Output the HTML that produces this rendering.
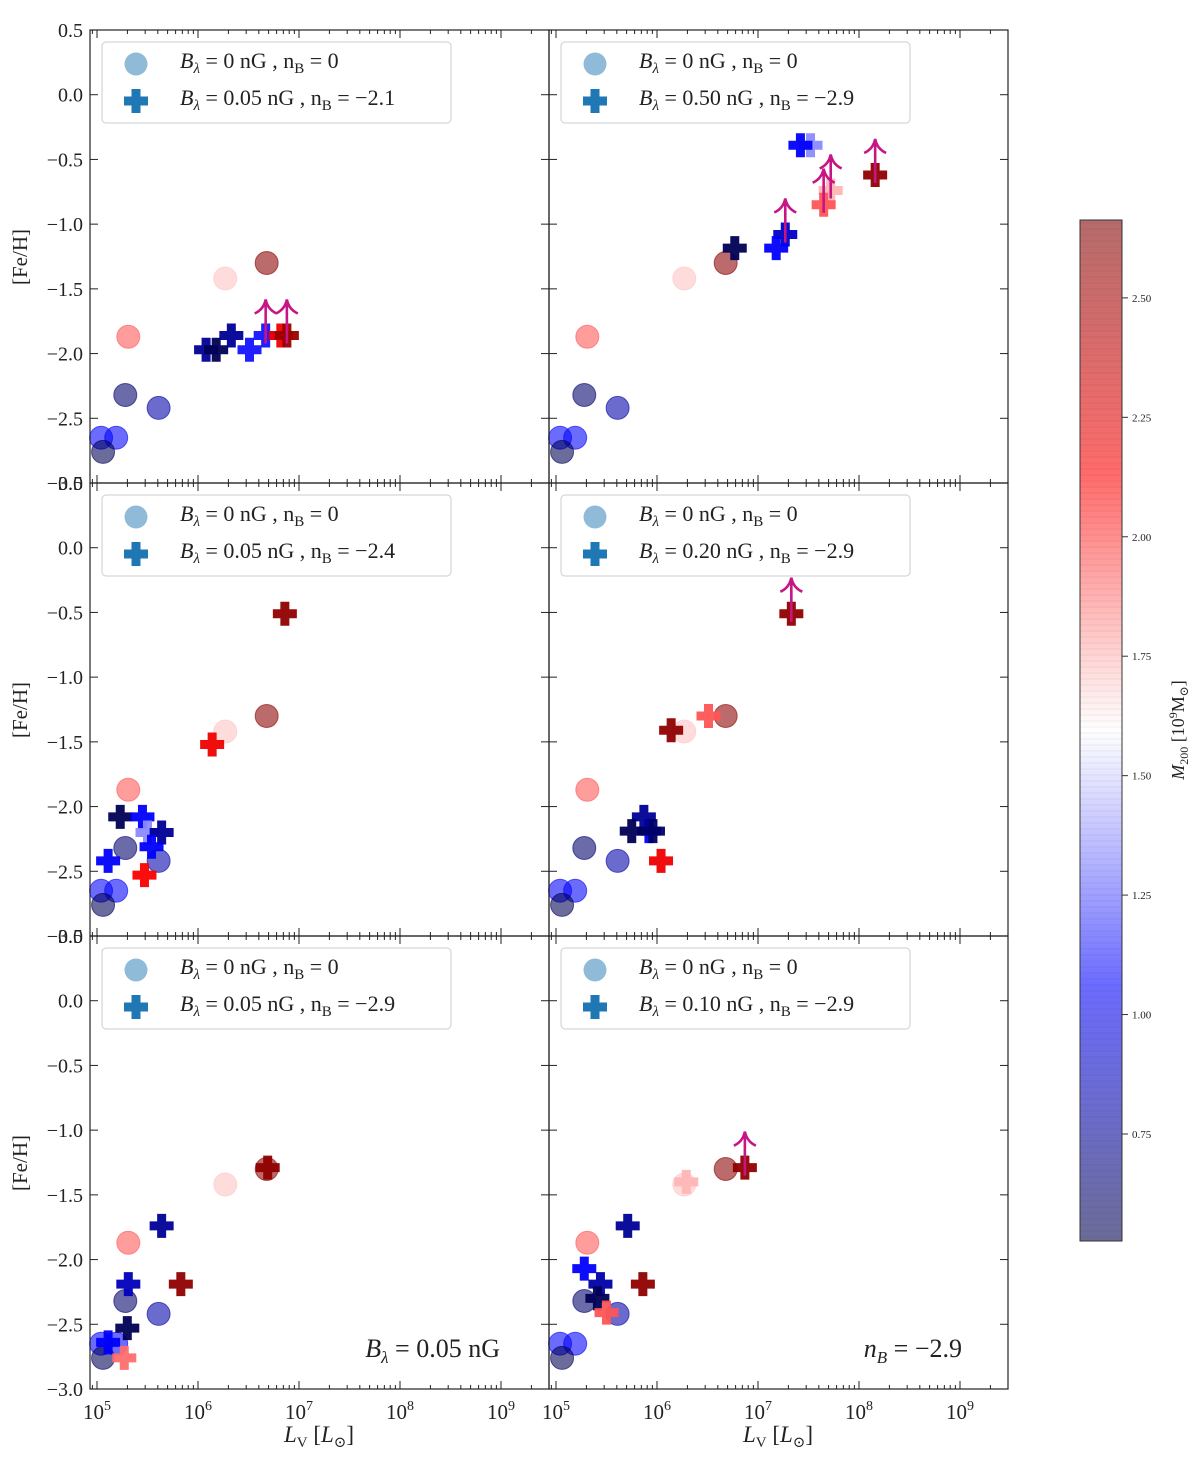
<!DOCTYPE html>
<html><head><meta charset="utf-8">
<style>
html,body{margin:0;padding:0;background:#fff;}
svg text{font-family:"Liberation Serif","DejaVu Serif",serif;fill:#222;}
</style></head>
<body>
<svg id="chart" width="1200" height="1461" viewBox="0 0 1200 1461" xmlns="http://www.w3.org/2000/svg"></svg>
<script>
// ---- data ----
const circleLv   = [5.31, 6.27, 6.68, 5.28, 5.61, 5.04, 5.19, 5.06];
const circleFeH  = [-1.87, -1.42, -1.30, -2.32, -2.42, -2.65, -2.65, -2.76];
const circleMass = [1.95, 1.72, 2.62, 0.62, 0.80, 1.05, 1.05, 0.55];

const p1Lv = [6.08, 6.18, 6.33, 6.51, 6.67, 6.82, 6.88];
const p1FeH = [-1.97, -1.97, -1.86, -1.97, -1.86, -1.86, -1.86];
const p1Mass = [0.75, 0.55, 0.75, 1.1, 1.1, 2.2, 2.55];
const p1Up = [0, 0, 0, 0, 1, 0, 1];

const p2Lv = [7.52, 7.42, 6.77, 7.27, 7.18, 7.72, 7.65, 8.16];
const p2FeH = [-0.39, -0.39, -1.185, -1.08, -1.185, -0.74, -0.85, -0.62];
const p2Mass = [1.35, 1.05, 0.55, 0.9, 1.05, 1.75, 1.95, 2.6];
const p2Up = [0, 0, 0, 1, 0, 1, 1, 1];

const p3Lv = [6.86, 6.14, 5.23, 5.45, 5.50, 5.64, 5.54, 5.11, 5.47];
const p3FeH = [-0.51, -1.52, -2.08, -2.08, -2.20, -2.20, -2.31, -2.42, -2.53];
const p3Mass = [2.6, 2.2, 0.55, 1.05, 1.35, 0.75, 1.05, 1.05, 2.15];
const p3Up = [0, 0, 0, 0, 0, 0, 0, 0, 0];

const p4Lv = [7.33, 6.14, 6.51, 5.92, 5.87, 5.75, 5.96, 6.04];
const p4FeH = [-0.51, -1.41, -1.30, -2.19, -2.08, -2.19, -2.19, -2.42];
const p4Mass = [2.6, 2.6, 1.95, 1.05, 0.75, 0.55, 0.6, 2.2];
const p4Up = [1, 0, 0, 0, 0, 0, 0, 0];

const p5Lv = [6.69, 5.64, 5.31, 5.83, 5.30, 5.11, 5.27];
const p5FeH = [-1.29, -1.74, -2.19, -2.19, -2.53, -2.64, -2.76];
const p5Mass = [2.6, 0.75, 0.85, 2.6, 0.55, 1.05, 1.9];
const p5Up = [0, 0, 0, 0, 0, 0, 0];

const p6Lv = [6.87, 6.29, 5.71, 5.86, 5.28, 5.44, 5.41, 5.50];
const p6FeH = [-1.29, -1.40, -1.74, -2.19, -2.07, -2.19, -2.30, -2.41];
const p6Mass = [2.6, 1.75, 0.75, 2.6, 1.05, 0.8, 0.55, 1.95];
const p6Up = [1, 0, 0, 0, 0, 0, 0, 0];

const legendB = ["0.05", "0.50", "0.05", "0.20", "0.05", "0.10"];
const legendN = ["2.1", "2.9", "2.4", "2.9", "2.9", "2.9"];
const yTicks = [0.5, 0.0, -0.5, -1.0, -1.5, -2.0, -2.5, -3.0];
const cbTicks = [0.75, 1.00, 1.25, 1.50, 1.75, 2.00, 2.25, 2.50];

// ---- helpers ----
const NS = "http://www.w3.org/2000/svg";
const svg = document.getElementById("chart");
function mk(tag, attrs, parent) {
  const e = document.createElementNS(NS, tag);
  for (const k in attrs) e.setAttribute(k, attrs[k]);
  (parent || svg).appendChild(e);
  return e;
}
const VMIN = 0.526, VMAX = 2.663;
function seismic(m) {
  let t = Math.max(0, Math.min(1, (m - VMIN) / (VMAX - VMIN)));
  const st = [[0, [0, 0, 0.3]], [0.25, [0, 0, 1]], [0.5, [1, 1, 1]], [0.75, [1, 0, 0]], [1, [0.5, 0, 0]]];
  for (let i = 0; i < 4; i++) {
    const [a, ca] = st[i], [b, cb] = st[i + 1];
    if (t <= b) {
      const f = (t - a) / (b - a);
      const c = ca.map((v, j) => Math.round(255 * (v + (cb[j] - v) * f)));
      return `rgb(${c[0]},${c[1]},${c[2]})`;
    }
  }
  return "rgb(128,0,0)";
}

const panels = [
  {x0: 90, y0: 30, lv: p1Lv, fe: p1FeH, m: p1Mass, up: p1Up},
  {x0: 549, y0: 30, lv: p2Lv, fe: p2FeH, m: p2Mass, up: p2Up},
  {x0: 90, y0: 483, lv: p3Lv, fe: p3FeH, m: p3Mass, up: p3Up},
  {x0: 549, y0: 483, lv: p4Lv, fe: p4FeH, m: p4Mass, up: p4Up},
  {x0: 90, y0: 936, lv: p5Lv, fe: p5FeH, m: p5Mass, up: p5Up},
  {x0: 549, y0: 936, lv: p6Lv, fe: p6FeH, m: p6Mass, up: p6Up},
];
const W = 459, H = 453, PXD = 101, PXU = H / 3.5;

function crossPath(cx, cy) {
  const a = 12, b = 4.5;
  return `M${cx-b},${cy-a}H${cx+b}V${cy-b}H${cx+a}V${cy+b}H${cx+b}V${cy+a}H${cx-b}V${cy+b}H${cx-a}V${cy-b}H${cx-b}Z`;
}

panels.forEach((p, pi) => {
  const g = mk("g", {});
  
  
  const xs = lv => p.x0 + 7 + (lv - 5) * PXD;
  const ys = f => p.y0 + (0.5 - f) * PXU;
  const right = p.x0 + W, bottom = p.y0 + H;
  circleLv.forEach((lv, i) => {
    const c = mk("circle", {cx: xs(lv), cy: ys(circleFeH[i]), r: 11.5, fill: seismic(circleMass[i]), "fill-opacity": 0.58, stroke: seismic(circleMass[i]), "stroke-opacity": 0.6, "stroke-width": 1}, g);
    
    
  });
  p.lv.forEach((lv, i) => {
    const c = mk("path", {d: crossPath(xs(lv), ys(p.fe[i])), fill: seismic(p.m[i]), "fill-opacity": 0.95}, g);
    
    
  });
  p.lv.forEach((lv, i) => {
    if (!p.up[i]) return;
    const x = xs(lv), y = ys(p.fe[i]);
    const a = mk("path", {d: `M${x},${y+8}V${y-34} M${x-11},${y-22} Q${x-2},${y-26} ${x},${y-36} Q${x+2},${y-26} ${x+11},${y-22}`, stroke: "#c71585", "stroke-width": 2.6, fill: "none"}, g);
    
    
  });
  const fr = mk("rect", {x: p.x0, y: p.y0, width: W, height: H, fill: "none", stroke: "#222", "stroke-width": 1.2}, g);
  
  
  for (let d = 4; d <= 9; d++) {
    for (let k = 1; k <= 9; k++) {
      const v = d + Math.log10(k);
      const x = xs(v);
      if (x < p.x0 || x > right) continue;
      const L = k === 1 ? 8 : 4;
      mk("line", {x1: x, y1: bottom, x2: x, y2: bottom - L, stroke: "#222", "stroke-width": 1}, g);
      mk("line", {x1: x, y1: p.y0, x2: x, y2: p.y0 + L, stroke: "#222", "stroke-width": 1}, g);
      if (k === 1 && pi >= 4 && d >= 5) {
        const t = mk("text", {x: x, y: bottom + 30, "font-size": 21, "text-anchor": "middle"}, g);
        t.innerHTML = `10<tspan font-size="14" dy="-9">${d}</tspan>`;
        
        
      }
    }
  }
  yTicks.forEach(v => {
    const y = ys(v);
    mk("line", {x1: p.x0, y1: y, x2: p.x0 + 8, y2: y, stroke: "#222", "stroke-width": 1}, g);
    mk("line", {x1: right, y1: y, x2: right - 8, y2: y, stroke: "#222", "stroke-width": 1}, g);
    if (pi % 2 === 0) {
      const t = mk("text", {x: p.x0 - 7, y: y + 7, "font-size": 20, "text-anchor": "end"}, g);
      t.textContent = (v < 0 ? "\u2212" : "") + Math.abs(v).toFixed(1);
      
      
    }
  });
  const lg = mk("g", {}, g);
  
  
  const lx = p.x0 + 12, ly = p.y0 + 12;
  mk("rect", {x: lx, y: ly, width: 349, height: 81, rx: 4, fill: "#fff", "fill-opacity": 0.8, stroke: "#ccc", "stroke-width": 1}, lg);
  mk("circle", {cx: lx + 34, cy: ly + 22, r: 11.5, fill: "#1f77b4", "fill-opacity": 0.5}, lg);
  mk("path", {d: crossPath(lx + 34, ly + 59), fill: "#1f77b4"}, lg);
  const t1 = mk("text", {x: lx + 78, y: ly + 26, "font-size": 22}, lg);
  t1.innerHTML = `<tspan font-style="italic">B</tspan><tspan font-size="15" dy="5" font-style="italic">λ</tspan><tspan dy="-5"> = 0 nG , n</tspan><tspan font-size="15" dy="5">B</tspan><tspan dy="-5"> = 0</tspan>`;
  
  
  const t2 = mk("text", {x: lx + 78, y: ly + 63, "font-size": 22}, lg);
  t2.innerHTML = `<tspan font-style="italic">B</tspan><tspan font-size="15" dy="5" font-style="italic">λ</tspan><tspan dy="-5"> = ${legendB[pi]} nG , n</tspan><tspan font-size="15" dy="5">B</tspan><tspan dy="-5"> = \u2212${legendN[pi]}</tspan>`;
  
  
  if (pi % 2 === 0) {
    const yl = mk("text", {x: 0, y: 0, "font-size": 21, "text-anchor": "middle", transform: `translate(27,${p.y0 + 227}) rotate(-90)`}, g);
    yl.textContent = "[Fe/H]";
    
    
  }
  if (pi >= 4) {
    const xl = mk("text", {x: p.x0 + 229, y: bottom + 53, "font-size": 23, "text-anchor": "middle"}, g);
    xl.innerHTML = `<tspan font-style="italic">L</tspan><tspan font-size="15" dy="5">V</tspan><tspan dy="-5"> [</tspan><tspan font-style="italic">L</tspan><tspan font-size="15" dy="5">⊙</tspan><tspan dy="-5">]</tspan>`;
    
    
  }
});

const a1 = mk("text", {x: 500, y: 1357, "font-size": 26, "text-anchor": "end"});
a1.innerHTML = `<tspan font-style="italic">B</tspan><tspan font-size="17" dy="6" font-style="italic">λ</tspan><tspan dy="-6"> = 0.05 nG</tspan>`;


const a2 = mk("text", {x: 962, y: 1357, "font-size": 26, "text-anchor": "end"});
a2.innerHTML = `<tspan font-style="italic">n</tspan><tspan font-size="17" dy="6" font-style="italic">B</tspan><tspan dy="-6"> = \u22122.9</tspan>`;



const cb = mk("g", {});


const CBX = 1080, CBW = 42, CBT = 220, CBB = 1241;
const cbY = m => CBB - (m - VMIN) / (VMAX - VMIN) * (CBB - CBT);
const defs = mk("defs", {}, cb);
const lgd = mk("linearGradient", {id: "cbg", x1: 0, y1: 1, x2: 0, y2: 0}, defs);
for (let i = 0; i <= 20; i++) {
  const m = VMIN + (VMAX - VMIN) * i / 20;
  mk("stop", {offset: i / 20, "stop-color": seismic(m)}, lgd);
}
mk("rect", {x: CBX, y: CBT, width: CBW, height: CBB - CBT, fill: "url(#cbg)", "fill-opacity": 0.58}, cb);
for (let y = CBT + 3; y < CBB; y += 6) {
  mk("line", {x1: CBX, y1: y, x2: CBX + CBW, y2: y, stroke: "#000", "stroke-opacity": 0.06, "stroke-width": 1}, cb);
}
mk("rect", {x: CBX, y: CBT, width: CBW, height: CBB - CBT, fill: "none", stroke: "#333", "stroke-width": 1}, cb);
cbTicks.forEach(v => {
  const y = cbY(v);
  mk("line", {x1: CBX + CBW, y1: y, x2: CBX + CBW + 6, y2: y, stroke: "#333", "stroke-width": 1}, cb);
  const t = mk("text", {x: CBX + CBW + 10, y: y + 4, "font-size": 11}, cb);
  t.textContent = v.toFixed(2);
  
  
});
const cbl = mk("text", {x: 0, y: 0, "font-size": 18, "text-anchor": "middle", transform: "translate(1184,730) rotate(-90)"}, cb);
cbl.innerHTML = `<tspan font-style="italic">M</tspan><tspan font-size="12" dy="4">200</tspan><tspan dy="-4"> [10</tspan><tspan font-size="12" dy="-7">9</tspan><tspan dy="7">M</tspan><tspan font-size="12" dy="4">⊙</tspan><tspan dy="-4">]</tspan>`;


</script>
</body></html>
